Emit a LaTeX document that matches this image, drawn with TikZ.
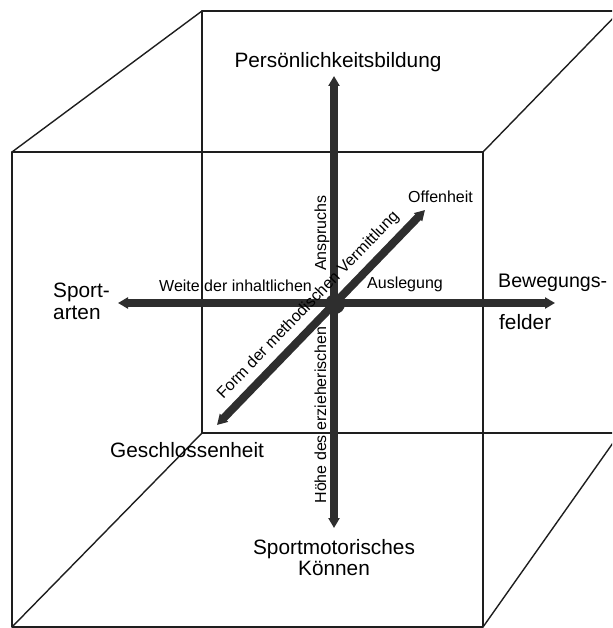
\documentclass[tikz,border=0pt]{standalone}
\usepackage{fontspec}
\setmainfont{Liberation Sans}
\usepackage{tikz}
\usetikzlibrary{arrows.meta,positioning,calc}
\usepackage{xcolor}
\definecolor{axisgray}{HTML}{2E2E2E}
\definecolor{edgegray}{HTML}{1E1E1E}

\begin{document}
\begin{tikzpicture}[x=1pt, y=-1pt,
    edge/.style={line width=1.4pt, edgegray, line join=round},
    axis/.style={line width=8pt, axisgray, {Triangle[length=10pt,width=11pt]}-{Triangle[length=10pt,width=11pt]}},
    big/.style={font=\fontsize{20.8}{22}\selectfont, inner sep=0pt},
    small/.style={font=\fontsize{16}{18}\selectfont, inner sep=0pt}]
    \clip (0,0) rectangle (612,628);

    % cube
    \draw[edge] (12,152) rectangle (483,627);
    \draw[edge] (202,433) -- (202,11) -- (620,11);
    \draw[edge] (202,433) -- (620,433);
    \foreach \a/\b in {12/202, 483/620}
    {
        \draw[edge] (\a,152) -- (\b,11);
    }
    \draw[edge] (12,627) -- (202,433);
    \draw[edge] (483,627) -- (620,433);

    % axis ends
    \coordinate (persEnd) at (334,76);
    \coordinate (koenEnd) at (334,528);
    \coordinate (sportEnd) at (118,303);
    \coordinate (bewEnd) at (555,303);
    \coordinate (geschlEnd) at (217,425);
    \coordinate (offenEnd) at (425,210);
    \coordinate (mitte) at (335,304);

    \draw[axis] (koenEnd) -- (persEnd);
    \draw[axis] (sportEnd) -- (bewEnd);
    \draw[axis] (geschlEnd) -- (offenEnd)
        node[midway, sloped, above=6pt, small, text=black] (form) {Form der methodischen Vermittlung};
    \fill[axisgray] (mitte) circle[radius=10pt];

    % labels
    \node[big, anchor=base] (pers) at (338,68) {Persönlichkeitsbildung};
    \node[big, anchor=base west] (sport) at (53,297) {Sport-};
    \node[big, anchor=base west] (arten) at (53,319) {arten};
    \node[big, anchor=base west, font=\fontsize{19.6}{22}\selectfont] (bew) at (498,287) {Bewegungs-};
    \node[big, anchor=base west] (felder) at (499,329) {felder};
    \node[big, anchor=base west] (geschl) at (110,457) {Geschlossenheit};
    \node[big, anchor=base] (sportmot) at (334,554) {Sportmotorisches};
    \node[big, anchor=base] (koennen) at (334,575) {Können};

    \node[small, anchor=base west] (weite) at (159,291) {Weite der inhaltlichen};
    \node[small, anchor=base west] (ausl) at (367,288) {Auslegung};
    \node[small, anchor=base west] (offen) at (408,203) {Offenheit};
    \node[small, rotate=90, anchor=base] (ansp) at (326,233) {Anspruchs};
    \node[small, rotate=90, anchor=base] (hoehe) at (326,415) {Höhe des erzieherischen};
\end{tikzpicture}
\end{document}
